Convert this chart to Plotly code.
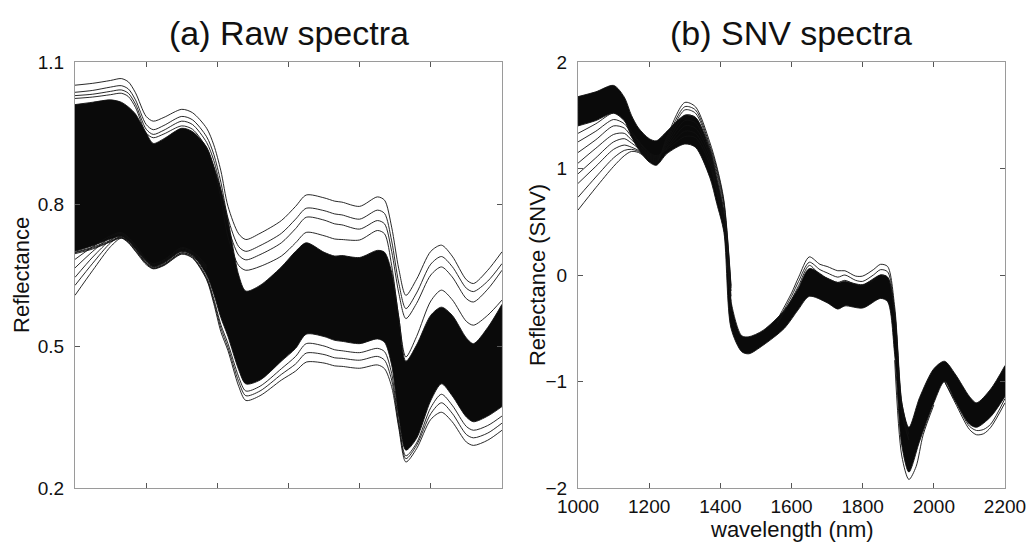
import plotly.graph_objects as go

# ---------------- data ----------------
WL = [1000, 1050, 1100, 1130, 1150, 1170, 1200, 1220, 1250, 1300, 1330, 1370, 1390, 1410,
      1430, 1460, 1480, 1520, 1580, 1620, 1650, 1700, 1730, 1750, 1800, 1850, 1870, 1890,
      1910, 1930, 1960, 2000, 2030, 2060, 2100, 2120, 2160, 2200]

# (a) raw spectra: envelope of the dense bundle
RAW_BAND_TOP = [1.010, 1.015, 1.020, 1.015, 1.005, 0.990, 0.950, 0.928, 0.938, 0.960, 0.953, 0.920, 0.880, 0.830,
                0.766, 0.650, 0.616, 0.628, 0.667, 0.700, 0.718, 0.698, 0.690, 0.691, 0.687, 0.702, 0.698, 0.656,
                0.561, 0.468, 0.502, 0.565, 0.582, 0.565, 0.517, 0.505, 0.539, 0.588]
RAW_BAND_DENSE_LOW = [0.700, 0.712, 0.726, 0.732, 0.722, 0.706, 0.680, 0.668, 0.676, 0.700, 0.692, 0.650, 0.610, 0.560,
                      0.520, 0.450, 0.420, 0.428, 0.468, 0.495, 0.525, 0.520, 0.512, 0.510, 0.505, 0.515, 0.508, 0.460,
                      0.350, 0.280, 0.305, 0.385, 0.420, 0.395, 0.350, 0.340, 0.352, 0.372]
RAW_LOW_1 = [0.698, 0.709, 0.723, 0.730, 0.720, 0.703, 0.676, 0.666, 0.673, 0.697, 0.689, 0.645, 0.600, 0.545,
             0.505, 0.435, 0.405, 0.415, 0.452, 0.478, 0.505, 0.500, 0.492, 0.490, 0.486, 0.495, 0.488, 0.442,
             0.338, 0.268, 0.295, 0.370, 0.398, 0.375, 0.330, 0.322, 0.332, 0.352]
RAW_LOW_2 = [0.697, 0.707, 0.721, 0.729, 0.719, 0.701, 0.674, 0.664, 0.671, 0.695, 0.687, 0.642, 0.595, 0.538,
             0.497, 0.425, 0.395, 0.405, 0.440, 0.462, 0.485, 0.482, 0.475, 0.474, 0.470, 0.478, 0.470, 0.428,
             0.332, 0.262, 0.290, 0.357, 0.380, 0.358, 0.313, 0.306, 0.316, 0.337]
RAW_BAND_BOTTOM = [0.695, 0.705, 0.720, 0.728, 0.718, 0.700, 0.672, 0.663, 0.670, 0.694, 0.686, 0.640, 0.590, 0.530,
                   0.490, 0.415, 0.385, 0.395, 0.428, 0.447, 0.466, 0.464, 0.458, 0.457, 0.453, 0.460, 0.452, 0.414,
                   0.327, 0.255, 0.283, 0.345, 0.360, 0.340, 0.297, 0.290, 0.301, 0.322]
# (a) separated high spectra
RAW_HIGH_1 = [1.051, 1.055, 1.061, 1.065, 1.058, 1.035, 0.985, 0.975, 0.983, 1.000, 0.993, 0.960, 0.925, 0.870,
              0.795, 0.737, 0.725, 0.738, 0.765, 0.795, 0.819, 0.813, 0.806, 0.804, 0.795, 0.815, 0.808, 0.751,
              0.663, 0.607, 0.641, 0.700, 0.713, 0.690, 0.640, 0.632, 0.660, 0.699]
RAW_HIGH_2 = [1.036, 1.040, 1.047, 1.050, 1.043, 1.020, 0.968, 0.957, 0.966, 0.985, 0.978, 0.942, 0.905, 0.846,
              0.770, 0.710, 0.700, 0.712, 0.738, 0.768, 0.791, 0.786, 0.779, 0.777, 0.768, 0.787, 0.780, 0.722,
              0.633, 0.579, 0.612, 0.673, 0.689, 0.668, 0.622, 0.615, 0.637, 0.674]
RAW_HIGH_3 = [1.029, 1.032, 1.038, 1.041, 1.034, 1.011, 0.958, 0.947, 0.956, 0.975, 0.968, 0.930, 0.892, 0.830,
              0.752, 0.692, 0.682, 0.693, 0.718, 0.748, 0.772, 0.766, 0.758, 0.756, 0.747, 0.765, 0.758, 0.700,
              0.612, 0.558, 0.590, 0.650, 0.667, 0.646, 0.600, 0.593, 0.620, 0.660]
RAW_HIGH_4 = [1.023, 1.026, 1.031, 1.034, 1.027, 1.004, 0.950, 0.940, 0.948, 0.965, 0.958, 0.918, 0.878, 0.812,
              0.730, 0.670, 0.660, 0.668, 0.690, 0.718, 0.740, 0.733, 0.726, 0.725, 0.724, 0.744, 0.737, 0.670,
              0.560, 0.477, 0.520, 0.595, 0.618, 0.598, 0.552, 0.544, 0.565, 0.597]
# (a) low spectra fanning out at the short-wavelength end
WL_RAW_FAN = [1000, 1050, 1100, 1130, 1150, 1170, 1200, 1220, 1250, 1300, 1330, 1370]
RAW_FAN_1 = [0.607, 0.660, 0.710, 0.728, 0.722, 0.705, 0.675, 0.664, 0.672, 0.697, 0.690, 0.660]
RAW_FAN_2 = [0.628, 0.675, 0.718, 0.732, 0.724, 0.707, 0.678, 0.667, 0.675, 0.700, 0.692, 0.662]
RAW_FAN_3 = [0.645, 0.688, 0.724, 0.735, 0.726, 0.709, 0.680, 0.669, 0.678, 0.703, 0.695, 0.665]
RAW_FAN_4 = [0.665, 0.700, 0.730, 0.738, 0.728, 0.711, 0.682, 0.672, 0.680, 0.706, 0.698, 0.668]
RAW_FAN_5 = [0.683, 0.710, 0.733, 0.740, 0.730, 0.713, 0.684, 0.674, 0.682, 0.708, 0.700, 0.670]

# (b) SNV spectra: envelope of the dense bundle
SNV_BAND_TOP = [1.675, 1.720, 1.780, 1.670, 1.500, 1.380, 1.280, 1.260, 1.350, 1.500, 1.480, 1.180, 0.900, 0.580,
                -0.250, -0.570, -0.580, -0.520, -0.330, -0.120, 0.060, -0.030, -0.070, -0.060, -0.090, 0.000, -0.020, -0.350,
                -1.200, -1.430, -1.150, -0.880, -0.810, -0.930, -1.140, -1.200, -1.070, -0.850]
SNV_BAND_BOTTOM = [1.400, 1.450, 1.520, 1.450, 1.300, 1.180, 1.060, 1.030, 1.140, 1.230, 1.200, 0.920, 0.670, 0.400,
                   -0.500, -0.720, -0.740, -0.660, -0.500, -0.320, -0.200, -0.260, -0.320, -0.290, -0.310, -0.220, -0.250, -0.750,
                   -1.600, -1.850, -1.560, -1.200, -1.000, -1.180, -1.400, -1.430, -1.330, -1.140]
# (b) spectra fanning out at the short-wavelength end
WL_SNV_FAN = [1000, 1050, 1100, 1130, 1150, 1170, 1200, 1220, 1250, 1300, 1330, 1370, 1390, 1410, 1430]
SNV_FAN_1 = [0.61, 0.82, 1.02, 1.12, 1.16, 1.15, 1.08, 1.05, 1.30, 1.62, 1.58, 1.25, 1.02, 0.70, -0.10]
SNV_FAN_2 = [0.73, 0.92, 1.10, 1.17, 1.18, 1.16, 1.09, 1.06, 1.28, 1.58, 1.55, 1.22, 1.00, 0.68, -0.12]
SNV_FAN_3 = [0.86, 1.02, 1.18, 1.22, 1.20, 1.17, 1.10, 1.07, 1.26, 1.55, 1.52, 1.20, 0.97, 0.65, -0.15]
SNV_FAN_4 = [0.95, 1.10, 1.25, 1.28, 1.24, 1.19, 1.11, 1.08, 1.24, 1.50, 1.48, 1.18, 0.94, 0.60, -0.20]
SNV_FAN_5 = [1.05, 1.19, 1.32, 1.33, 1.27, 1.21, 1.12, 1.09, 1.22, 1.45, 1.43, 1.15, 0.90, 0.55, -0.25]
SNV_FAN_6 = [1.15, 1.27, 1.40, 1.38, 1.30, 1.23, 1.13, 1.10, 1.20, 1.40, 1.38, 1.12, 0.85, 0.50, -0.30]
SNV_FAN_7 = [1.25, 1.35, 1.46, 1.42, 1.33, 1.25, 1.14, 1.11, 1.19, 1.35, 1.33, 1.08, 0.80, 0.47, -0.32]
SNV_FAN_8 = [1.33, 1.42, 1.52, 1.45, 1.35, 1.26, 1.15, 1.12, 1.18, 1.30, 1.29, 1.04, 0.78, 0.45, -0.34]
# (b) spectra standing above the bundle around 1650-1870 nm
WL_SNV_MID = [1560, 1600, 1620, 1650, 1680, 1700, 1730, 1750, 1780, 1800, 1830, 1850, 1870, 1890, 1910, 1930]
SNV_MID_1 = [-0.42, -0.17, -0.02, 0.17, 0.10, 0.08, 0.04, 0.04, -0.01, -0.01, 0.05, 0.10, 0.08, -0.30, -1.20, -1.50]
SNV_MID_2 = [-0.44, -0.20, -0.06, 0.12, 0.05, 0.02, -0.02, 0.00, -0.05, -0.06, 0.00, 0.05, 0.03, -0.35, -1.25, -1.55]
SNV_MID_3 = [-0.46, -0.23, -0.10, 0.09, 0.00, -0.03, -0.07, -0.05, -0.09, -0.10, -0.05, 0.00, -0.02, -0.40, -1.30, -1.55]
# (b) deepest spectra at the 1930 nm minimum
WL_SNV_DIP = [1890, 1910, 1930, 1950, 1970, 2000]
SNV_DIP_1 = [-0.80, -1.70, -1.92, -1.80, -1.50, -1.22]
# (b) low spectra at the long-wavelength end
WL_SNV_END = [2030, 2060, 2100, 2120, 2140, 2160, 2200]
SNV_END_1 = [-1.00, -1.20, -1.45, -1.50, -1.49, -1.43, -1.20]
SNV_END_2 = [-1.00, -1.18, -1.42, -1.46, -1.45, -1.40, -1.16]

RAW_YTICKS = [0.2, 0.5, 0.8, 1.1]
SNV_YTICKS = [-2, -1, 0, 1, 2]
X_TICKS = [1000, 1200, 1400, 1600, 1800, 2000, 2200]

# ---------------- figure ----------------
FONT = "Liberation Sans, Arial, sans-serif"
LINE = dict(color="#111111", width=0.9, shape="spline", smoothing=0.8)

fig = go.Figure()


def band(x, top, bottom, xa, ya):
    fig.add_trace(go.Scatter(x=x, y=top, mode="lines", line=LINE, xaxis=xa, yaxis=ya,
                             hoverinfo="skip", showlegend=False))
    fig.add_trace(go.Scatter(x=x, y=bottom, mode="lines", line=LINE, fill="tonexty",
                             fillcolor="#0a0a0a", xaxis=xa, yaxis=ya,
                             hoverinfo="skip", showlegend=False))


def curve(x, y, xa, ya):
    fig.add_trace(go.Scatter(x=x, y=y, mode="lines", line=LINE, xaxis=xa, yaxis=ya,
                             hoverinfo="skip", showlegend=False))


# panel (a)
band(WL, RAW_BAND_TOP, RAW_BAND_DENSE_LOW, "x", "y")
for s in [RAW_LOW_1, RAW_LOW_2, RAW_BAND_BOTTOM, RAW_HIGH_1, RAW_HIGH_2, RAW_HIGH_3, RAW_HIGH_4]:
    curve(WL, s, "x", "y")
for s in [RAW_FAN_1, RAW_FAN_2, RAW_FAN_3, RAW_FAN_4, RAW_FAN_5]:
    curve(WL_RAW_FAN, s, "x", "y")

# panel (b)
band(WL, SNV_BAND_TOP, SNV_BAND_BOTTOM, "x2", "y2")
for s in [SNV_FAN_1, SNV_FAN_2, SNV_FAN_3, SNV_FAN_4, SNV_FAN_5, SNV_FAN_6, SNV_FAN_7, SNV_FAN_8]:
    curve(WL_SNV_FAN, s, "x2", "y2")
for s in [SNV_MID_1, SNV_MID_2, SNV_MID_3]:
    curve(WL_SNV_MID, s, "x2", "y2")
curve(WL_SNV_DIP, SNV_DIP_1, "x2", "y2")
for s in [SNV_END_1, SNV_END_2]:
    curve(WL_SNV_END, s, "x2", "y2")

AX = dict(showline=True, linecolor="#9a9a9a", linewidth=1.3, mirror="ticks",
          ticks="inside", ticklen=5, tickcolor="#555555", tickwidth=1,
          showgrid=False, zeroline=False, automargin=False,
          tickfont=dict(family=FONT, size=19, color="#111111"))

TXT = dict(family=FONT, color="#111111")

fig.update_layout(
    width=1030, height=543,
    margin=dict(l=75, r=25, t=62, b=55),
    paper_bgcolor="white", plot_bgcolor="white",
    font=dict(family=FONT, color="#111111"),
    xaxis=dict(AX, domain=[0, 0.4591], range=[1000, 2200], tickvals=X_TICKS,
               showticklabels=False, anchor="y"),
    yaxis=dict(AX, domain=[0, 1], range=[0.2, 1.1], tickvals=RAW_YTICKS,
               ticklabelstandoff=6, anchor="x"),
    xaxis2=dict(AX, domain=[0.5409, 1], range=[1000, 2200], tickvals=X_TICKS,
                ticklabelstandoff=1, anchor="y2"),
    yaxis2=dict(AX, domain=[0, 1], range=[-2, 2], tickvals=SNV_YTICKS,
                ticklabelstandoff=6, anchor="x2"),
    annotations=[
        dict(text="(a) Raw spectra", x=0.2296, y=1.068, xref="paper", yref="paper",
             showarrow=False, xanchor="center", yanchor="middle", font=dict(TXT, size=34)),
        dict(text="(b) SNV spectra", x=0.7704, y=1.068, xref="paper", yref="paper",
             showarrow=False, xanchor="center", yanchor="middle", font=dict(TXT, size=34)),
        dict(text="Reflectance", x=-0.0581, y=0.5, xref="paper", yref="paper", textangle=-90,
             showarrow=False, xanchor="center", yanchor="middle", font=dict(TXT, size=22)),
        dict(text="Reflectance (SNV)", x=0.4968, y=0.5, xref="paper", yref="paper", textangle=-90,
             showarrow=False, xanchor="center", yanchor="middle", font=dict(TXT, size=22)),
        dict(text="wavelength (nm)", x=0.771, y=-0.097, xref="paper", yref="paper",
             showarrow=False, xanchor="center", yanchor="middle", font=dict(TXT, size=22)),
    ],
)

fig.write_html("out.html", config={"displayModeBar": False},
               post_script="document.body.style.margin='0px';")
